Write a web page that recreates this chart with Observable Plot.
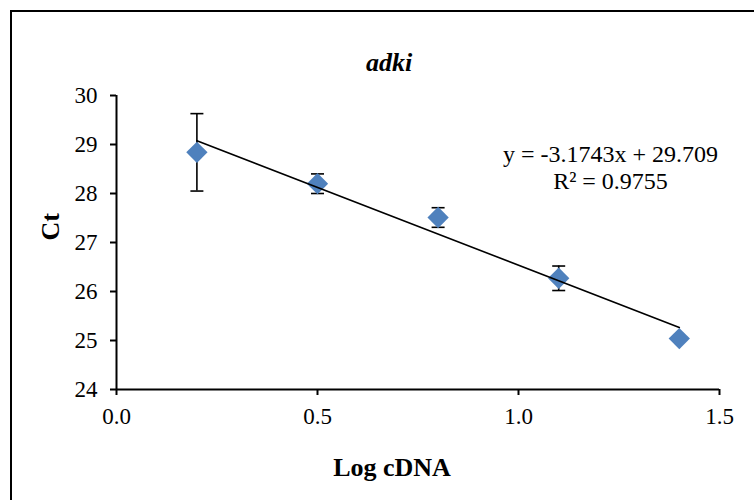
<!DOCTYPE html>
<html><head><meta charset="utf-8">
<script src="https://cdn.jsdelivr.net/npm/d3@7"></script>
<script src="https://cdn.jsdelivr.net/npm/@observablehq/plot@0.6"></script>
<style>
body{margin:0;background:#fff;overflow:hidden;}
#wrap{position:relative;width:754px;height:500px;overflow:hidden;background:#fff;}
#border{position:absolute;left:10px;top:10px;width:800px;height:600px;border:2px solid #000;box-sizing:border-box;}
#chart{position:absolute;left:0;top:0;}
</style></head><body>
<div id="wrap"><div id="border"></div><div id="chart"></div></div>
<script>
const logCDNA = [0.2, 0.5, 0.8, 1.1, 1.4];
const ctMean  = [28.84, 28.20, 27.51, 26.27, 25.04];
const ctErr   = [0.79, 0.20, 0.20, 0.25, 0.05];
const xTicks = [0, 0.5, 1.0, 1.5];
const yTicks = [24, 25, 26, 27, 28, 29, 30];
const chartTitle = "adki";
const xTitle = "Log cDNA";
const yTitle = "Ct";
const eqLines = ["y = -3.1743x + 29.709", "R² = 0.9755"];

const data = logCDNA.map((x, i) => ({x, y: ctMean[i], lo: ctMean[i] - ctErr[i], hi: ctMean[i] + ctErr[i]}));
const caps = data.flatMap(d => [{x: d.x, y: d.lo}, {x: d.x, y: d.hi}]);
const capSymbol = {draw(ctx) { ctx.moveTo(-6.5, 0); ctx.lineTo(6.5, 0); }};
const font = "'Liberation Serif','Times New Roman',serif";

const plot = Plot.plot({
  width: 754, height: 500,
  marginLeft: 116, marginRight: 35, marginTop: 95, marginBottom: 111,
  style: {fontFamily: font, fontSize: "23px", color: "#000", background: "transparent", overflow: "visible"},
  x: {domain: [0, 1.5]},
  y: {domain: [24, 30]},
  marks: [
    Plot.axisX({ticks: xTicks, tickFormat: d3.format(".1f"), tickSize: 6, tickPadding: 12, label: null, fontSize: 23, strokeWidth: 2}),
    Plot.axisY({ticks: yTicks, tickFormat: d3.format("d"), tickSize: 6, tickPadding: 13, label: null, fontSize: 23, strokeWidth: 2}),
    Plot.ruleY([24], {stroke: "#000", strokeWidth: 2}),
    Plot.ruleX([0], {stroke: "#000", strokeWidth: 2}),
    Plot.ruleX(data, {x: "x", y1: "lo", y2: "hi", stroke: "#000", strokeWidth: 1.6}),
    Plot.dot(caps, {x: "x", y: "y", symbol: capSymbol, r: 5, stroke: "#000", fill: "none", strokeWidth: 1.6}),
    Plot.dot(data, {x: "x", y: "y", symbol: "square", rotate: 45, r: 8.5, fill: "#4f81bd", stroke: "none"}),
    Plot.linearRegressionY(data, {x: "x", y: "y", ci: 0, stroke: "#000", strokeWidth: 1.6}),
    Plot.text([chartTitle], {frameAnchor: "top", dx: -29, dy: -33, fontSize: 26, fontWeight: "bold", fontStyle: "italic", lineAnchor: "middle"}),
    Plot.text([xTitle], {frameAnchor: "bottom", dx: -26, dy: 78, fontSize: 26, fontWeight: "bold", lineAnchor: "middle"}),
    Plot.text([yTitle], {frameAnchor: "left", dx: -66, dy: -2, rotate: -90, fontSize: 26, fontWeight: "bold", lineAnchor: "middle"}),
    Plot.text([eqLines[0]], {frameAnchor: "top-left", dx: 494, dy: 59, fontSize: 24, textAnchor: "middle", lineAnchor: "middle"}),
    Plot.text([eqLines[1]], {frameAnchor: "top-left", dx: 494, dy: 86, fontSize: 24, textAnchor: "middle", lineAnchor: "middle"})
  ]
});
document.getElementById("chart").appendChild(plot);
</script>
</body></html>
